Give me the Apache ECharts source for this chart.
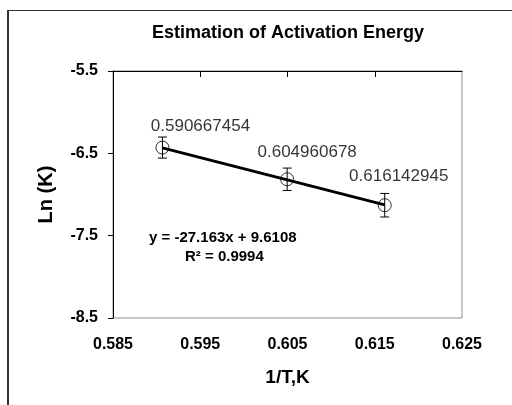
<!DOCTYPE html>
<html>
<head>
<meta charset="utf-8">
<script src="https://cdn.jsdelivr.net/npm/echarts@6/dist/echarts.min.js"></script>
<style>
html,body{margin:0;padding:0;background:#fff;}
#chart{width:512px;height:405px;}
</style>
</head>
<body>
<div id="chart"></div>
<script>
var xValues = [0.590667454, 0.604960678, 0.616142945];
var yValues = [-6.43, -6.815, -7.13];
var yErrors = [0.128, 0.136, 0.143];
var xTickLabels = [0.585, 0.595, 0.605, 0.615, 0.625];
var xTopTicks = [0.595, 0.605, 0.615];
var yTickLabels = [-8.5, -7.5, -6.5, -5.5];
var slope = -27.163;
var intercept = 9.6108;
var titleText = 'Estimation of Activation Energy';
var eqText = 'y = -27.163x + 9.6108';
var r2Text = 'R\u00b2 = 0.9994';

var FONT = '"Liberation Sans", Arial, sans-serif';
var labelOffsets = [[38, -21], [20, -27], [14, -29]];

var chart = echarts.init(document.getElementById('chart'), null, {renderer: 'canvas'});

var scatterData = xValues.map(function (x, i) {
  return {
    value: [x, yValues[i]],
    label: {offset: labelOffsets[i]}
  };
});
var errData = xValues.map(function (x, i) {
  return [x, yValues[i] - yErrors[i], yValues[i] + yErrors[i]];
});
var trendData = [
  [xValues[0], slope * xValues[0] + intercept],
  [xValues[xValues.length - 1], slope * xValues[xValues.length - 1] + intercept]
];

var option = {
  animation: false,
  backgroundColor: '#fff',
  grid: {left: 113, top: 71, right: 50, bottom: 87, show: true, borderColor: '#8c8c8c', borderWidth: 1, backgroundColor: '#fff'},
  xAxis: [{
    type: 'value', min: 0.585, max: 0.625, position: 'bottom',
    name: '1/T,K', nameLocation: 'middle', nameGap: 50,
    nameTextStyle: {fontFamily: FONT, fontWeight: 'bold', fontSize: 19, color: '#000'},
    axisLine: {show: false}, axisTick: {show: false}, splitLine: {show: false},
    axisLabel: {
      customValues: xTickLabels, margin: 19,
      fontFamily: FONT, fontWeight: 'bold', fontSize: 16, color: '#000',
      formatter: function (v) { return v.toFixed(3); }
    }
  }, {
    type: 'value', min: 0.585, max: 0.625, position: 'top',
    axisLine: {show: true, lineStyle: {color: '#000', width: 1}},
    axisTick: {show: true, inside: true, length: 6, customValues: xTopTicks, lineStyle: {color: '#000'}},
    axisLabel: {show: false}, splitLine: {show: false}
  }],
  yAxis: {
    type: 'value', min: -8.5, max: -5.5,
    name: 'Ln (K)', nameLocation: 'middle', nameGap: 57,
    nameTextStyle: {fontFamily: FONT, fontWeight: 'bold', fontSize: 20, color: '#000'},
    axisLine: {show: true, lineStyle: {color: '#000', width: 1}},
    axisTick: {show: true, length: 5, customValues: yTickLabels, lineStyle: {color: '#000'}},
    splitLine: {show: false},
    axisLabel: {
      customValues: yTickLabels, margin: 15,
      fontFamily: FONT, fontWeight: 'bold', fontSize: 16, color: '#000',
      formatter: function (v) { return v.toFixed(1); }
    }
  },
  graphic: [
    {type: 'line', shape: {x1: 8, y1: 10.5, x2: 512, y2: 10.5}, style: {stroke: '#333', lineWidth: 1}, z: 100},
    {type: 'line', shape: {x1: 8, y1: 10, x2: 8, y2: 405}, style: {stroke: '#333', lineWidth: 2}, z: 100},
    {type: 'text', x: 288, y: 33, style: {text: titleText, font: 'bold 18px ' + FONT, fill: '#000', textAlign: 'center', textVerticalAlign: 'middle'}},
    {type: 'text', left: 149, top: 230, style: {text: eqText, font: 'bold 15px ' + FONT, fill: '#000'}},
    {type: 'text', left: 185, top: 249, style: {text: r2Text, font: 'bold 15px ' + FONT, fill: '#000'}}
  ],
  series: [{
    type: 'line', data: trendData, symbol: 'none',
    lineStyle: {color: '#000', width: 3}, z: 2
  }, {
    type: 'custom', data: errData, z: 3,
    renderItem: function (params, api) {
      var x = api.value(0);
      var lo = api.coord([x, api.value(1)]);
      var hi = api.coord([x, api.value(2)]);
      var hw = 4.5;
      var st = {stroke: '#000', lineWidth: 1};
      return {type: 'group', children: [
        {type: 'line', shape: {x1: lo[0], y1: lo[1], x2: hi[0], y2: hi[1]}, style: st},
        {type: 'line', shape: {x1: lo[0] - hw, y1: lo[1], x2: lo[0] + hw, y2: lo[1]}, style: st},
        {type: 'line', shape: {x1: hi[0] - hw, y1: hi[1], x2: hi[0] + hw, y2: hi[1]}, style: st}
      ]};
    }
  }, {
    type: 'scatter', data: scatterData, symbol: 'circle', symbolSize: 13, z: 4,
    itemStyle: {color: 'rgba(255,255,255,0)', borderColor: '#000', borderWidth: 1},
    label: {
      show: true, position: 'inside',
      fontFamily: FONT, fontSize: 17, color: '#000',
      formatter: function (p) { return String(p.value[0]); }
    }
  }]
};
chart.setOption(option);
</script>
</body>
</html>
